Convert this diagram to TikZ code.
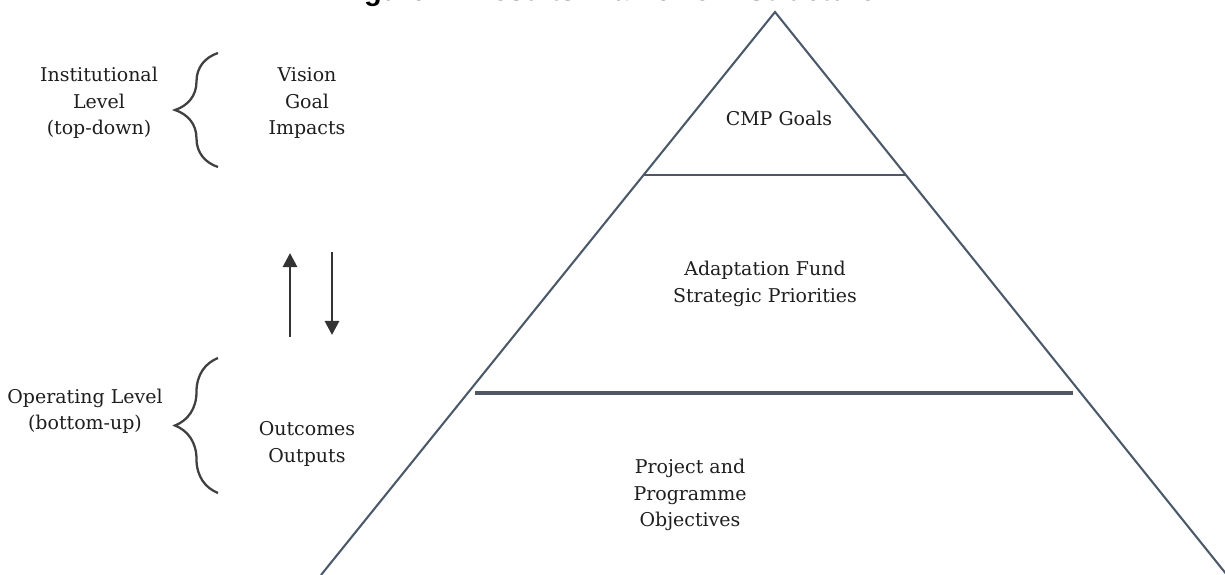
\documentclass[tikz,border=0pt]{standalone}
\usepackage{fontspec}
\setmainfont{DejaVu Serif}
\newfontfamily\titlefont{Liberation Sans}
\usetikzlibrary{arrows.meta, calc, decorations.pathreplacing}
\definecolor{pyrdark}{RGB}{78,88,100}
\definecolor{pyrshade}{RGB}{178,204,232}
\definecolor{textdark}{RGB}{30,30,30}

\begin{document}
\begin{tikzpicture}[
    x=0.02cm, y=-0.02cm,
    lbl/.style={font=\fontsize{10.8}{15}\selectfont,
        text=textdark, align=center, inner sep=0pt},
    edge/.style={line width=1.1pt, pyrdark},
    shade/.style={line width=1.2pt, pyrshade, shift={(1.5,1.5)}},
    bracket/.style={decorate, decoration={brace, amplitude=0.86cm},
        line width=1.3pt, black!75},
    arrow/.style={-{Triangle[length=8pt, width=8pt]}, line width=1.6pt, black!80}
]
\useasboundingbox (0,0) rectangle (1225,575);
\clip (0,0) rectangle (1225,575);

% Title
\node[font=\titlefont\bfseries\fontsize{16.5}{18}\selectfont, anchor=base]
    (title) at (607,0.8) {Figure 1: Results Framework Structure};

% Pyramid corners and dividers
\coordinate (apex) at (775,12);
\coordinate (bl) at (321,575);
\coordinate (br) at (1227,575);
\coordinate (t1) at (643,175);
\coordinate (t2) at (905,175);
\coordinate (b1) at (475,393);
\coordinate (b2) at (1073,393);

% shadow under the lines
\draw[shade] (bl) -- (apex) -- (br);
\draw[shade] (t1) -- (t2);
\draw[shade, line width=2.6pt] (b1) -- (b2);

\draw[edge] (bl) -- (apex) -- (br);
\draw[edge] (t1) -- (t2);
\draw[edge, line width=2.2pt] (b1) -- (b2);

% Pyramid levels
\node[lbl] (cmp) at (779,118) {CMP Goals};
\node[lbl] (fund) at (765,284) {Adaptation Fund\\Strategic Priorities};
\node[lbl] (proj) at (690,495) {Project and\\Programme\\Objectives};

% Institutional level
\node[lbl] (inst) at (99,103) {Institutional\\Level\\(top-down)};
\node[lbl] (vision) at (307,103) {Vision\\Goal\\Impacts};
\coordinate (ib1) at (218,167);
\coordinate (ib2) at (218,53);
\draw[bracket] (ib1) -- (ib2);

% Operating level
\node[lbl] (oper) at (85,411) {Operating Level\\(bottom-up)};
\node[lbl] (outc) at (307,444) {Outcomes\\Outputs};
\coordinate (ob1) at (218,493);
\coordinate (ob2) at (218,358);
\draw[bracket] (ob1) -- (ob2);

% Up and down
\coordinate (up0) at (290,337);
\coordinate (up1) at (290,253);
\coordinate (dn0) at (332,252);
\coordinate (dn1) at (332,335);
\draw[arrow] (up0) -- (up1);
\draw[arrow] (dn0) -- (dn1);

\end{tikzpicture}
\end{document}
